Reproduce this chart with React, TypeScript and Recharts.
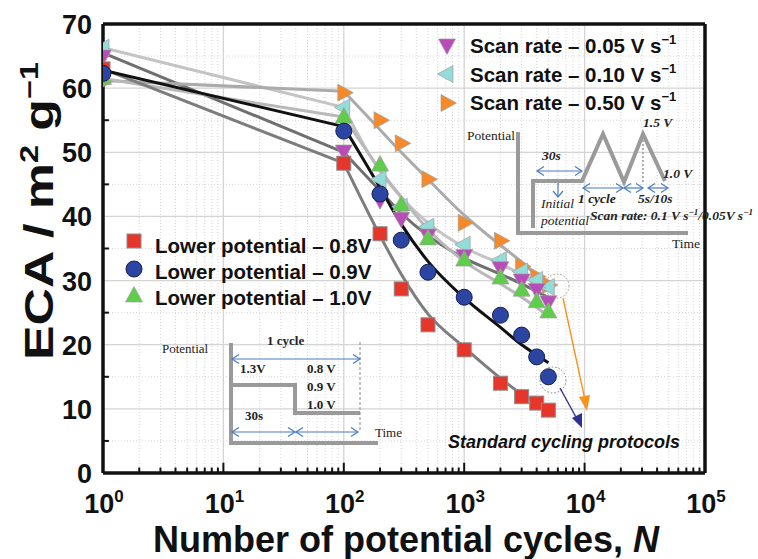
import React from 'react';
import { ComposedChart, XAxis, YAxis, Line, Scatter, ReferenceLine } from 'recharts';

// ---------- data ----------
const cyclesN = [1, 100, 200, 300, 500, 1000, 2000, 3000, 4000, 5000];
const eca08 = [63.0, 48.3, 37.3, 28.7, 23.1, 19.2, 14.0, 11.9, 10.9, 9.8];
const eca09 = [62.3, 53.3, 43.5, 36.3, 31.3, 27.4, 24.6, 21.5, 18.1, 15.0];
const eca10 = [61.5, 55.5, 48.0, 41.8, 36.5, 33.2, 30.4, 28.5, 26.7, 25.1];
const eca005 = [65.0, 50.2, 42.6, 39.7, 37.1, 33.9, 32.0, 30.1, 28.6, 26.7];
const eca010 = [66.3, 57.0, 45.8, 41.5, 38.4, 35.6, 33.2, 31.4, 30.1, 29.0];
const eca050 = [61.0, 59.3, 55.0, 51.4, 45.8, 39.0, 36.2, 32.2, 30.6, 29.3];

// fitted guide curves
const fitN = [1, 100, 200, 300, 500, 1000, 2000, 3000, 4000, 5000];
const fit08 = [63.0, 48.3, 37.0, 31.0, 24.8, 19.6, 14.8, 12.3, 10.9, 9.8];
const fit09 = [62.8, 54.0, 44.5, 38.8, 33.0, 27.3, 22.7, 20.0, 18.4, 17.2];
const fit10 = [61.5, 55.5, 47.3, 43.0, 38.0, 33.0, 29.5, 27.4, 25.8, 24.4];
const fit005 = [65.5, 50.0, 44.0, 40.5, 37.0, 33.5, 31.0, 29.5, 28.3, 27.4];
const fit010 = [66.3, 57.0, 47.0, 43.0, 39.0, 35.2, 32.6, 31.0, 29.9, 29.0];
const fit050 = [61.2, 59.5, 53.5, 50.0, 45.8, 40.2, 35.5, 32.9, 30.8, 29.2];

const xTicks = [1, 10, 100, 1000, 10000, 100000];
const yTicks = [0, 10, 20, 30, 40, 50, 60, 70];
const xMinor = [2, 3, 4, 5, 6, 7, 8, 9, 20, 30, 40, 50, 60, 70, 80, 90, 200, 300, 400, 500, 600, 700, 800, 900,
  2000, 3000, 4000, 5000, 6000, 7000, 8000, 9000, 20000, 30000, 40000, 50000, 60000, 70000, 80000, 90000];
const yMinor = [5, 15, 25, 35, 45, 55, 65];

const legendLower = ['Lower potential \u2013 0.8V', 'Lower potential \u2013 0.9V', 'Lower potential \u2013 1.0V'];
const legendScan = ['Scan rate \u2013 0.05 V s', 'Scan rate \u2013 0.10 V s', 'Scan rate \u2013 0.50 V s'];

const toPts = (xs: number[], ys: number[]) => xs.map((n, i) => ({ n, v: ys[i] }));

const SANS = '"Liberation Sans", Arial, sans-serif';
const SERIF = '"Liberation Serif", "Times New Roman", serif';

const COL = {
  red: '#e5362b', blue: '#2c45a3', green: '#5fcc4b', magenta: '#b94cb8', cyan: '#93dcd9', orange: '#f6892a',
};

type Kind = 'square' | 'circle' | 'up' | 'down' | 'left' | 'right';
const Marker = ({ cx, cy, kind, fill }: { cx: number; cy: number; kind: Kind; fill: string }) => {
  if (cx == null || cy == null) return null;
  if (kind === 'square') return <rect x={cx - 7} y={cy - 7} width={14} height={14} fill={fill} stroke="#8c8c8c" strokeWidth={1} />;
  if (kind === 'circle') return <circle cx={cx} cy={cy} r={8} fill={fill} stroke="#15204f" strokeWidth={1} />;
  let pts = '';
  const a = 9.5, b = 6, h = 8.5;
  if (kind === 'up') pts = `${cx},${cy - a} ${cx - h},${cy + b} ${cx + h},${cy + b}`;
  if (kind === 'down') pts = `${cx},${cy + a} ${cx - h},${cy - b} ${cx + h},${cy - b}`;
  if (kind === 'left') pts = `${cx - a},${cy} ${cx + b},${cy - h} ${cx + b},${cy + h}`;
  if (kind === 'right') pts = `${cx + a},${cy} ${cx - b},${cy - h} ${cx - b},${cy + h}`;
  return <polygon points={pts} fill={fill} stroke="#a0a0a0" strokeWidth={0.7} />;
};

const XTick = (props: any) => {
  const { x, y, payload } = props;
  const exp = Math.round(Math.log10(payload.value));
  return (
    <text x={x + 1} y={y + 40} textAnchor="middle" fontFamily={SANS} fontSize={27} fontWeight="bold" fill="#111">
      <tspan>10</tspan>
      <tspan dy={-11} fontSize={17}>{exp}</tspan>
    </text>
  );
};

const YTick = (props: any) => {
  const { x, y, payload } = props;
  return (
    <text x={x - 11} y={y + 10} textAnchor="end" fontFamily={SANS} fontSize={27} fontWeight="bold" fill="#111">
      {payload.value}
    </text>
  );
};

const series = [
  { name: '0.05', data: toPts(cyclesN, eca005), fit: toPts(fitN, fit005), kind: 'down' as Kind, fill: COL.magenta, line: '#6f6f6f' },
  { name: '0.10', data: toPts(cyclesN, eca010), fit: toPts(fitN, fit010), kind: 'left' as Kind, fill: COL.cyan, line: '#c4c4c4' },
  { name: '0.50', data: toPts(cyclesN, eca050), fit: toPts(fitN, fit050), kind: 'right' as Kind, fill: COL.orange, line: '#ababab' },
  { name: '1.0', data: toPts(cyclesN, eca10), fit: toPts(fitN, fit10), kind: 'up' as Kind, fill: COL.green, line: '#b9b9b9' },
  { name: '0.8', data: toPts(cyclesN, eca08), fit: toPts(fitN, fit08), kind: 'square' as Kind, fill: COL.red, line: '#7d7d7d' },
  { name: '0.9', data: toPts(cyclesN, eca09), fit: toPts(fitN, fit09), kind: 'circle' as Kind, fill: COL.blue, line: '#111111' },
];

const scatterOrder = ['0.50', '0.10', '0.05', '1.0', '0.8', '0.9'];

const DoubleArrow = ({ x1, x2, y, c = '#4a7cc0' }: { x1: number; x2: number; y: number; c?: string }) => (
  <g stroke={c} strokeWidth={1.2} fill="none">
    <line x1={x1} y1={y} x2={x2} y2={y} />
    <polyline points={`${x1 + 7},${y - 4.5} ${x1},${y} ${x1 + 7},${y + 4.5}`} />
    <polyline points={`${x2 - 7},${y - 4.5} ${x2},${y} ${x2 - 7},${y + 4.5}`} />
  </g>
);

const Overlay = () => (
  <svg width={758} height={559} style={{ position: 'absolute', left: 0, top: 0, pointerEvents: 'none' }}>
    {/* axis titles */}
    <text transform="translate(53,360) rotate(-90)" textAnchor="start" textLength={298} lengthAdjust="spacingAndGlyphs"
      fontFamily={SANS} fontSize={40} fontWeight="bold" fill="#111">
      ECA / m<tspan dy={-15} fontSize={25}>2</tspan><tspan dy={15}> g</tspan><tspan dy={-15} fontSize={25}>{'\u22121'}</tspan>
    </text>
    <text x={406} y={552} textAnchor="middle" fontFamily={SANS} fontSize={36} fontWeight="bold" fill="#111">
      Number of potential cycles, <tspan fontStyle="italic">N</tspan>
    </text>

    {/* left legend */}
    <Marker cx={134} cy={241} kind="square" fill={COL.red} />
    <Marker cx={134} cy={269} kind="circle" fill={COL.blue} />
    <Marker cx={134} cy={296} kind="up" fill={COL.green} />
    {legendLower.map((t, i) => (
      <text key={t} x={155} y={253 + i * 26} fontFamily={SANS} fontSize={20.5} fontWeight="bold" fill="#111">{t}</text>
    ))}

    {/* right legend */}
    <Marker cx={447} cy={45} kind="down" fill={COL.magenta} />
    <Marker cx={447} cy={74} kind="left" fill={COL.cyan} />
    <Marker cx={447} cy={103} kind="right" fill={COL.orange} />
    {legendScan.map((t, i) => (
      <text key={t} x={470} y={53 + i * 28.5} fontFamily={SANS} fontSize={20.5} fontWeight="bold" fill="#111">
        {t}<tspan dy={-9} fontSize={13}>{'\u22121'}</tspan>
      </text>
    ))}

    {/* annotation */}
    <text x={448} y={448} fontFamily={SANS} fontSize={18} fontWeight="bold" fontStyle="italic" fill="#111">Standard cycling protocols</text>
    <circle cx={553} cy={380} r={13} fill="none" stroke="#777" strokeWidth={1} strokeDasharray="1.5 2" />
    <circle cx={557} cy={286} r={12} fill="none" stroke="#999" strokeWidth={1} strokeDasharray="1.5 2" />
    <line x1={563} y1={298} x2={585} y2={400} stroke="#f7941d" strokeWidth={1.4} />
    <polygon points="587,411 579,397 590,395" fill="#f7941d" />
    <line x1={560} y1={388} x2={577} y2={419} stroke="#2e3192" strokeWidth={1.4} />
    <polygon points="582,428 572,418 582,413" fill="#2e3192" />

    {/* lower-left inset */}
    <g stroke="#9a9a9a" strokeWidth={4} fill="none">
      <polyline points="231,343 231,443 378,443" />
      <polyline points="231,385 295,385 295,413 360,413" />
    </g>
    <line x1={360} y1={342} x2={360} y2={432} stroke="#888" strokeWidth={1} strokeDasharray="3 2" />
    <DoubleArrow x1={232} x2={360} y={359} />
    <DoubleArrow x1={232} x2={295} y={432} />
    <DoubleArrow x1={296} x2={358} y={432} />
    <g fontFamily={SERIF} fontSize={13} fill="#222">
      <text x={162} y={353}>Potential</text>
      <text x={267} y={345} fontWeight="bold">1 cycle</text>
      <text x={240} y={373} fontWeight="bold">1.3V</text>
      <text x={307} y={373} fontWeight="bold">0.8 V</text>
      <text x={307} y={391} fontWeight="bold">0.9 V</text>
      <text x={307} y={409} fontWeight="bold">1.0 V</text>
      <text x={245} y={420} fontWeight="bold">30s</text>
      <text x={375} y={437}>Time</text>
    </g>

    {/* upper-right inset */}
    <g stroke="#9a9a9a" strokeWidth={4} fill="none" strokeLinejoin="miter">
      <polyline points="518,132 518,233 688,233" />
      <polyline points="533,228 533,181 582,181 603,134 624,182 643,134 665,181" />
    </g>
    <line x1={643} y1={140} x2={643} y2={182} stroke="#999" strokeWidth={1.5} strokeDasharray="2 2" />
    <DoubleArrow x1={537} x2={582} y={171} />
    <g stroke="#4a7cc0" strokeWidth={1.2} fill="none">
      <line x1={558} y1={183} x2={558} y2={197} />
      <polyline points="553,191 558,197 563,191" />
    </g>
    <DoubleArrow x1={583} x2={623} y={188} />
    <DoubleArrow x1={624} x2={643} y={188} />
    <DoubleArrow x1={648} x2={668} y={188} />
    <g fontFamily={SERIF} fontSize={13.5} fill="#222">
      <text x={467} y={140}>Potential</text>
      <text x={542} y={160} fontWeight="bold" fontStyle="italic">30s</text>
      <text x={643} y={127} fontWeight="bold" fontStyle="italic">1.5 V</text>
      <text x={663} y={178} fontWeight="bold" fontStyle="italic">1.0 V</text>
      <text x={541} y={208} fontStyle="italic">Initial</text>
      <text x={541} y={225} fontStyle="italic">potential</text>
      <text x={578} y={203} fontWeight="bold" fontStyle="italic">1 cycle</text>
      <text x={638} y={203} fontWeight="bold" fontStyle="italic">5s/10s</text>
      <text x={590} y={220} fontWeight="bold" fontStyle="italic">
        Scan rate: 0.1 V s<tspan dy={-5} fontSize={9}>{'\u22121'}</tspan><tspan dy={5}>/0.05V s</tspan><tspan dy={-5} fontSize={9}>{'\u22121'}</tspan>
      </text>
      <text x={672} y={248}>Time</text>
    </g>
  </svg>
);

export default function App() {
  return (
    <div style={{ position: 'absolute', left: 0, top: 0, width: 758, height: 559, background: '#fff' }}>
      <ComposedChart width={758} height={559} margin={{ top: 24, right: 53, bottom: 0, left: 0 }}>
        <XAxis dataKey="n" type="number" scale="log" domain={[1, 100000]} ticks={xTicks} allowDataOverflow
          axisLine={false} tickLine={false} tickSize={0} tickMargin={0} height={86} tick={<XTick />} interval={0} />
        <YAxis type="number" domain={[0, 70]} ticks={yTicks} allowDataOverflow
          axisLine={false} tickLine={false} tickSize={0} tickMargin={0} width={103} tick={<YTick />} interval={0} />

        {/* minor grid */}
        {xMinor.map((v) => (
          <ReferenceLine key={'xm' + v} x={v} stroke="#d6d6d6" strokeWidth={1} strokeDasharray="1 2" />
        ))}
        {yMinor.map((v) => (
          <ReferenceLine key={'ym' + v} y={v} stroke="#d6d6d6" strokeWidth={1} strokeDasharray="1 2" />
        ))}
        {/* major grid */}
        {xTicks.slice(1, -1).map((v) => (
          <ReferenceLine key={'xM' + v} x={v} stroke="#d4d4d4" strokeWidth={1.3} />
        ))}
        {yTicks.slice(1, -1).map((v) => (
          <ReferenceLine key={'yM' + v} y={v} stroke="#d4d4d4" strokeWidth={1.3} />
        ))}
        {/* inner tick marks */}
        {xMinor.map((v) => (
          <ReferenceLine key={'xt' + v} segment={[{ x: v, y: 0 }, { x: v, y: 0.85 }]} stroke="#111" strokeWidth={2} />
        ))}
        {xTicks.map((v) => (
          <ReferenceLine key={'xT' + v} segment={[{ x: v, y: 0 }, { x: v, y: 1.6 }]} stroke="#111" strokeWidth={2} />
        ))}
        {yMinor.map((v) => (
          <ReferenceLine key={'yt' + v} segment={[{ x: 1, y: v }, { x: 1.12, y: v }]} stroke="#111" strokeWidth={2} />
        ))}

        {/* fitted curves: straight log segment from 1 to 100, smooth afterwards */}
        {series.map((s) => (
          <Line key={'h' + s.name} data={s.fit.slice(0, 2)} dataKey="v" type="linear" stroke={s.line} strokeWidth={3}
            dot={false} isAnimationActive={false} legendType="none" />
        ))}
        {series.map((s) => (
          <Line key={'t' + s.name} data={s.fit.slice(1)} dataKey="v" type="monotone" stroke={s.line} strokeWidth={3}
            dot={false} isAnimationActive={false} legendType="none" />
        ))}

        {scatterOrder.map((nm) => {
          const s = series.find((q) => q.name === nm)!;
          return (
            <Scatter key={'s' + nm} data={s.data} dataKey="v" isAnimationActive={false}
              shape={(p: any) => <Marker cx={p.cx} cy={p.cy} kind={s.kind} fill={s.fill} />} />
          );
        })}

        {/* frame */}
        <ReferenceLine x={1} stroke="#111" strokeWidth={3.5} />
        <ReferenceLine x={100000} stroke="#111" strokeWidth={3.5} />
        <ReferenceLine y={0} stroke="#111" strokeWidth={3.5} />
        <ReferenceLine y={70} stroke="#111" strokeWidth={3.5} />
      </ComposedChart>
      <Overlay />
    </div>
  );
}
